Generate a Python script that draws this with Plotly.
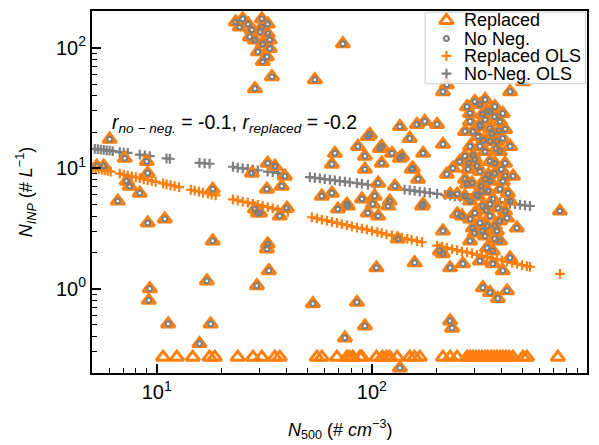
import plotly.graph_objects as go

ORANGE = "#ff7f0e"
GREY = "#7f7f7f"
FONT = "Liberation Sans, Arial, sans-serif"

# Non-negative (measured) points: N500 (# cm^-3), N_INP (# L^-1)
nonneg_n500 = [
    6.04, 5.26, 5.67, 7.10, 8.98, 9.08, 7.25, 7.48, 8.34, 6.59, 9.08, 10.9, 18.2, 18.2,
    9.28, 9.18, 11.3, 17.1, 17.8, 15.8, 29.2, 33.2, 32.5, 53.2, 27.7, 29.5,
    23.3, 25.1, 26.6, 30.8, 32.8, 27.6, 30.2, 32.8, 28.6, 31.1, 33.5, 29.5, 32.5, 28.6,
    34.3, 73.3, 54.3, 24.3, 27.1, 30.8, 33.5, 31.1,
    32.8, 35.4, 39.4, 38.1, 32.5, 28.6, 30.2, 37.3, 40.3, 32.8,
    67.3, 65.2, 86.1, 95.8, 92.8, 111, 124, 138, 111, 92.8, 97.9, 109, 150, 173, 214,
    135, 155, 256, 238, 223, 58.5, 65.2, 89.9, 103, 119, 128, 107, 153, 164, 171, 69.5,
    77.3, 95.8, 107, 132, 76.5, 101, 121, 105, 158, 85.2, 92.8, 74.9, 135, 162, 176, 201,
    214, 223, 231, 236,
    318, 286, 343, 406, 318, 295, 354, 406, 381, 439, 504, 406, 277, 249, 748, 173, 231,
    249, 214, 295, 328, 381, 472, 425, 343, 365, 207, 231, 265, 318, 406, 439, 328, 354,
    425, 385, 214, 365,
    301, 336, 373, 286, 336, 394, 311, 354, 286, 336, 394, 301, 354, 416, 280, 318, 373,
    336, 292, 394, 346, 311, 365, 286, 328, 385, 301, 354, 318, 373, 336, 394, 286, 262,
    439, 453, 135,
    277, 416, 271, 373, 318, 271, 439, 373, 308, 416, 271, 354, 325, 429, 271, 354, 416,
    286, 394, 343, 301, 373, 318, 354,
    330, 362, 296, 400, 322, 348, 306, 378, 340, 282, 390, 326,
]
nonneg_inp = [
    17.4, 10.4, 10.4, 12.1, 11.4, 9.10, 7.81, 7.10, 6.21, 5.34, 3.51, 3.79, 6.70, 2.49,
    1.00, 0.80, 0.51, 1.16, 0.51, 0.35, 1.06, 1.41, 2.14, 0.75, 9.10, 4.25,
    164, 174, 158, 174, 158, 141, 136, 131, 116, 108, 99, 92.7, 84.3, 45.8,
    57.5, 108, 54.4, 149, 123, 149, 116, 77.0,
    11.0, 10.4, 8.59, 7.10, 6.70, 4.58, 4.25, 4.01, 4.67, 2.35,
    13.3, 10.8, 15.2, 18.4, 12.6, 15.2, 13.3, 12.6, 11.0, 9.81, 19.1, 14.6, 17.7, 13.3, 15.8,
    12.1, 10.0, 11.4, 10.0, 8.92, 5.87, 6.21, 5.55, 5.87, 4.85, 7.10, 7.52, 9.81, 8.11, 4.85, 4.58,
    4.85, 4.25, 4.01, 2.59, 5.04, 5.04, 5.34, 1.49, 1.64, 0.77, 0.49, 0.39, 22.2, 23.1, 24.5, 23.1,
    43.3, 49.4, 0.54, 0.47,
    33.8, 28.5, 29.6, 28.5, 23.1, 20.2, 21.4, 17.7, 16.7, 43.3, 52.4, 7.81, 7.38, 6.10, 4.41, 5.04, 6.10,
    4.17, 3.02, 3.19, 3.02, 3.02, 3.19, 3.86, 2.18, 2.06, 2.06, 1.49, 1.61, 1.70, 1.41, 1.80, 1.02, 0.93,
    0.96, 0.83, 1.95, 1.61,
    35.8, 37.2, 32.5, 24.5, 25.4, 24.5, 18.4, 16.7, 15.2, 13.8, 13.8, 11.9, 11.4, 11.0, 9.81, 9.44, 9.10,
    8.11, 7.52, 6.70, 6.45, 5.87, 5.55, 5.34, 4.85, 4.67, 4.25, 4.01, 3.51, 3.32, 2.74, 2.49, 2.49, 4.01,
    5.34, 8.59, 0.22,
    32.5, 21.0, 20.2, 26.9, 15.2, 12.6, 15.2, 11.0, 10.4, 8.59, 8.11, 7.81, 6.45, 6.21, 5.87, 5.04, 4.41,
    3.79, 3.65, 3.32, 2.90, 2.59, 22.2, 29.6,
    17.0, 19.5, 12.8, 9.8, 7.1, 8.8, 6.0, 14.5, 4.5, 11.0, 20.5, 28.0,
]

# Negative values that were replaced
replaced_n500 = [
    10.7, 12.4, 14.7, 17.6, 18.6, 23.8, 28.0, 30.8, 35.4, 37.3, 55.5, 58.5, 68.8, 76.5,
    79.0, 81.6, 88.0, 89.9, 105, 112, 117, 121, 131, 150, 158, 167, 214, 231, 249,
    277, 286, 295, 304, 314, 325, 336, 346, 358, 369, 381, 394, 406, 420, 434, 453,
    504, 526, 732,
]
replaced_inp = [
    0.27, 0.27, 0.27, 0.27, 0.27, 0.27, 0.27, 0.27, 0.27, 0.27, 0.27, 0.27, 0.27, 0.27,
    0.27, 0.27, 0.27, 0.27, 0.27, 0.27, 0.27, 0.27, 0.27, 0.27, 0.27, 0.27, 0.27, 0.27, 0.27,
    0.27, 0.27, 0.27, 0.27, 0.27, 0.27, 0.27, 0.27, 0.27, 0.27, 0.27, 0.27, 0.27, 0.27, 0.27, 0.27,
    0.27, 0.27, 0.27,
]

# OLS fitted values
nonneg_ols_n500 = [
    5.15, 5.32, 5.49, 5.67, 5.85, 6.04, 6.24, 6.73, 7.02, 7.33, 8.34, 8.80, 9.28, 11.1, 11.5,
    15.8, 16.7, 17.6, 22.6, 23.8, 25.1, 26.5, 28.0, 29.5, 32.8, 34.6, 36.6, 38.6,
    51.5, 54.3, 57.3, 60.4, 63.8, 67.3, 71.0, 74.9, 79.0, 85.2, 89.9, 95.8, 103,
    142, 150, 158, 167, 176, 186, 201, 219, 231, 243, 257, 271, 286, 301,
    394, 416, 438, 462, 488, 515, 543,
]
nonneg_ols_inp = [
    14.5, 14.4, 14.3, 14.2, 14.1, 14.0, 13.9, 13.6, 13.5, 13.4, 13.0, 12.8, 12.6, 12.1, 12.0,
    11.1, 11.0, 10.9, 10.3, 10.1, 10.0, 9.88, 9.75, 9.63, 9.39, 9.28, 9.16, 9.04,
    8.45, 8.34, 8.24, 8.14, 8.04, 7.93, 7.83, 7.74, 7.64, 7.51, 7.41, 7.30, 7.17,
    6.65, 6.57, 6.48, 6.40, 6.32, 6.24, 6.13, 6.01, 5.94, 5.86, 5.79, 5.72, 5.65, 5.57,
    5.24, 5.17, 5.10, 5.04, 4.98, 4.92, 4.86,
]
replaced_ols_n500 = [
    5.04, 5.20, 5.37, 5.55, 5.73, 5.92, 6.11, 6.73, 7.02, 7.33, 7.65, 7.99, 8.34, 8.70, 9.08,
    9.48, 9.89, 10.7, 11.1, 11.6, 12.1, 12.7, 14.4, 15.0, 15.7, 16.4, 17.3, 18.0, 18.8,
    22.6, 23.8, 25.1, 26.5, 28.0, 29.5, 31.1, 32.8, 34.6, 36.6, 38.6, 40.7,
    52.6, 55.5, 58.5, 61.8, 65.2, 68.8, 72.5, 76.5, 80.7, 85.2, 89.9, 94.8, 100, 106, 111,
    117, 124, 131, 138, 146, 153, 162, 171,
    201, 212, 223, 236, 249, 262, 277, 292, 308, 325, 343, 361, 381, 402, 425, 448, 473,
    499, 526, 543, 749,
]
replaced_ols_inp = [
    10.15, 10.0, 9.89, 9.76, 9.63, 9.51, 9.38, 9.03, 8.87, 8.72, 8.57, 8.42, 8.27, 8.13, 7.99,
    7.86, 7.72, 7.49, 7.36, 7.23, 7.11, 6.98, 6.63, 6.52, 6.40, 6.29, 6.16, 6.05, 5.95,
    5.52, 5.41, 5.29, 5.18, 5.07, 4.96, 4.85, 4.75, 4.64, 4.54, 4.45, 4.35,
    3.92, 3.83, 3.75, 3.67, 3.59, 3.52, 3.44, 3.37, 3.29, 3.22, 3.15, 3.09, 3.02, 2.95, 2.89,
    2.83, 2.77, 2.71, 2.65, 2.59, 2.54, 2.48, 2.43,
    2.28, 2.23, 2.18, 2.13, 2.09, 2.04, 2.00, 1.96, 1.91, 1.87, 1.83, 1.79, 1.75, 1.72, 1.68,
    1.64, 1.61, 1.57, 1.54, 1.52, 1.33,
]

x_tickvals = [10, 100, 1000]
x_ticktext = ["10<sup>1</sup>", "10<sup>2</sup>", "10<sup>3</sup>"]
y_tickvals = [1, 10, 100]
y_ticktext = ["10<sup>0</sup>", "10<sup>1</sup>", "10<sup>2</sup>"]
x_minor = [6, 7, 8, 9, 20, 30, 40, 50, 60, 70, 80, 90, 200, 300, 400, 500, 600, 700, 800, 900]
y_minor = [0.2, 0.3, 0.4, 0.5, 0.6, 0.7, 0.8, 0.9, 2, 3, 4, 5, 6, 7, 8, 9,
           20, 30, 40, 50, 60, 70, 80, 90, 200]

legend_labels = ["Replaced", "No Neg.", "Replaced OLS", "No-Neg. OLS"]

MK_TRI = dict(symbol="triangle-up-open", size=12, color=ORANGE, line=dict(width=3, color=ORANGE))
MK_CIRC = dict(symbol="circle-open", size=5, color=GREY, line=dict(width=2.2, color=GREY))
MK_PLUS_O = dict(symbol="cross-thin", size=7, color=ORANGE, line=dict(width=2.2, color=ORANGE))
MK_PLUS_G = dict(symbol="cross-thin", size=7, color=GREY, line=dict(width=2.2, color=GREY))

fig = go.Figure()

fig.add_trace(go.Scatter(x=nonneg_ols_n500, y=nonneg_ols_inp, mode="markers",
                         name=legend_labels[3], marker=MK_PLUS_G))
fig.add_trace(go.Scatter(x=replaced_ols_n500, y=replaced_ols_inp, mode="markers",
                         name=legend_labels[2], marker=MK_PLUS_O))
fig.add_trace(go.Scatter(x=nonneg_n500 + replaced_n500, y=nonneg_inp + replaced_inp,
                         mode="markers", name=legend_labels[0], marker=MK_TRI))
fig.add_trace(go.Scatter(x=nonneg_n500, y=nonneg_inp, mode="markers",
                         name=legend_labels[1], marker=MK_CIRC))

# Legend box (drawn on an overlay axis so it sits above the data)
LX0, LX1, LY0, LY1 = 0.673, 0.997, 0.799, 0.997
fig.add_trace(go.Scatter(
    x=[LX0, LX1, LX1, LX0, LX0], y=[LY0, LY0, LY1, LY1, LY0], mode="lines",
    fill="toself", fillcolor="rgba(255,255,255,0.8)", line=dict(color="#cccccc", width=1),
    xaxis="x2", yaxis="y2", hoverinfo="skip",
))
legend_rows = [0.974, 0.924, 0.876, 0.827]
for row, mk in zip(legend_rows, [MK_TRI, MK_CIRC, MK_PLUS_O, MK_PLUS_G]):
    fig.add_trace(go.Scatter(x=[0.716], y=[row], mode="markers", marker=mk,
                             xaxis="x2", yaxis="y2", hoverinfo="skip"))
for row, lab in zip(legend_rows, legend_labels):
    fig.add_annotation(xref="paper", yref="paper", x=0.748, y=row, xanchor="left",
                       yanchor="middle", showarrow=False, text=lab,
                       font=dict(family=FONT, size=18, color="black"))

axis_common = dict(
    type="log", showgrid=False, zeroline=False, showline=True, linecolor="black",
    linewidth=2, mirror=True, ticks="inside", ticklen=9, tickwidth=1.5, tickcolor="black",
    tickmode="array", tickfont=dict(family=FONT, size=20, color="black"),
)
xaxis_cfg = dict(
    axis_common, range=[0.699, 3], tickvals=x_tickvals, ticktext=x_ticktext,
    minor=dict(tickmode="array", tickvals=x_minor, ticks="inside", ticklen=5,
               tickwidth=1, tickcolor="black", showgrid=False),
)
yaxis_cfg = dict(
    axis_common, range=[-0.70, 2.306], tickvals=y_tickvals, ticktext=y_ticktext,
    minor=dict(tickmode="array", tickvals=y_minor, ticks="inside", ticklen=5,
               tickwidth=1, tickcolor="black", showgrid=False),
)

fig.add_annotation(
    xref="paper", yref="paper", x=0.036, y=0.69, xanchor="left", yanchor="middle",
    showarrow=False, font=dict(family=FONT, size=19.5, color="black"),
    text="<i>r</i><sub><i>no − neg.</i></sub> = -0.1, <i>r</i><sub><i>replaced</i></sub> = -0.2",
)
fig.add_annotation(
    xref="paper", yref="paper", x=0.5, y=-0.155, xanchor="center", yanchor="middle",
    showarrow=False, font=dict(family=FONT, size=18, color="black"),
    text="<i>N</i><sub>500</sub> (# <i>cm</i><sup>−3</sup>)",
)
fig.add_annotation(
    xref="paper", yref="paper", x=-0.135, y=0.5, xanchor="center", yanchor="middle",
    textangle=-90, showarrow=False, font=dict(family=FONT, size=18, color="black"),
    text="<i>N</i><sub><i>INP</i></sub> (# <i>L</i><sup>−1</sup>)",
)

fig.update_layout(
    width=599, height=445,
    margin=dict(l=92, r=12, t=9, b=72),
    paper_bgcolor="white", plot_bgcolor="white",
    font=dict(family=FONT, color="black"),
    showlegend=False,
    xaxis=xaxis_cfg,
    yaxis=yaxis_cfg,
    xaxis2=dict(overlaying="x", anchor="y2", range=[0, 1], visible=False, fixedrange=True),
    yaxis2=dict(overlaying="y", anchor="x2", range=[0, 1], visible=False, fixedrange=True),
)

fig.write_html("out.html")
